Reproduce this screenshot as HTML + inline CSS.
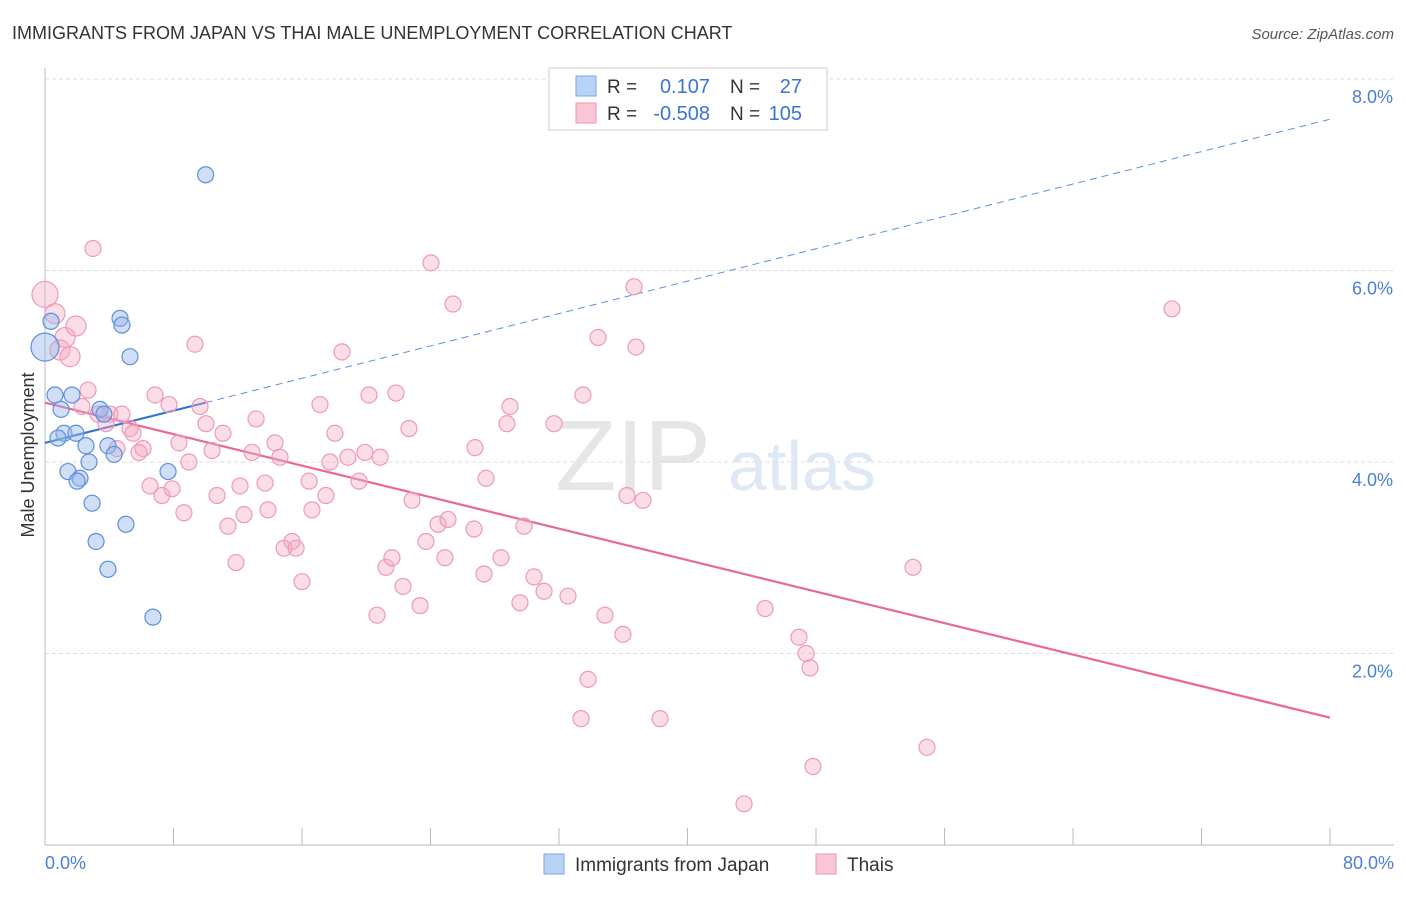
<!DOCTYPE html>
<html><head><meta charset="utf-8"><style>
body{margin:0;background:#fff;font-family:"Liberation Sans",sans-serif;}
svg text{font-family:"Liberation Sans",sans-serif;}
</style></head><body>
<svg id="chart" width="1406" height="892">
<text x="12" y="39" font-size="18" fill="#333">IMMIGRANTS FROM JAPAN VS THAI MALE UNEMPLOYMENT CORRELATION CHART</text>
<text x="1394" y="39" font-size="15" fill="#555" font-style="italic" text-anchor="end">Source: ZipAtlas.com</text>
<text x="633" y="490" font-size="100" fill="#e6e6e6" font-family="Liberation Serif" text-anchor="middle">ZIP</text>
<text x="802" y="490" font-size="70" fill="#dfe8f5" text-anchor="middle">atlas</text>
<g id="grid"></g><g id="axes"></g><g id="lines"></g><g id="pts"></g>
<text transform="translate(34,455) rotate(-90)" font-size="18" fill="#333" text-anchor="middle">Male Unemployment</text>
<text x="45" y="869" font-size="18" fill="#4a7fd6">0.0%</text>
<text x="1394" y="869" font-size="18" fill="#4a7fd6" text-anchor="end">80.0%</text>
<g>
<rect x="549" y="68" width="278" height="62" fill="#fff" stroke="#ccc"/>
<rect x="576" y="76" width="20" height="20" fill="#b9d3f5" stroke="#7aa5e0"/>
<rect x="576" y="103" width="20" height="20" fill="#f9c6d6" stroke="#ec94b2"/>
<text x="607" y="93" font-size="19" fill="#333">R =</text><text x="710" y="93" font-size="20" fill="#3a74d6" text-anchor="end">0.107</text>
<text x="730" y="93" font-size="19" fill="#333">N =</text><text x="802" y="93" font-size="20" fill="#3a74d6" text-anchor="end">27</text>
<text x="607" y="120" font-size="19" fill="#333">R =</text><text x="710" y="120" font-size="20" fill="#3a74d6" text-anchor="end">-0.508</text>
<text x="730" y="120" font-size="19" fill="#333">N =</text><text x="802" y="120" font-size="20" fill="#3a74d6" text-anchor="end">105</text>
</g>
<g>
<rect x="544" y="854" width="20" height="20" fill="#b9d3f5" stroke="#7aa5e0"/>
<text x="575" y="871" font-size="19" fill="#333">Immigrants from Japan</text>
<rect x="816" y="854" width="20" height="20" fill="#f9c6d6" stroke="#ec94b2"/>
<text x="847" y="871" font-size="19" fill="#333">Thais</text>
</g>
</svg>
<script>
const yTicks=[2,4,6,8];
const xTicks=[0,8,16,24,32,40,48,56,64,72,80];
const japanX=[10.0,4.67,4.79,0.37,0,5.29,0.62,1.68,1.0,3.42,3.67,1.18,1.93,0.81,2.55,3.92,4.30,2.74,1.43,7.66,2.18,2.0,2.93,5.04,3.18,3.92,6.72];
const japanY=[7.0,5.5,5.43,5.47,5.2,5.1,4.7,4.7,4.55,4.55,4.5,4.3,4.3,4.25,4.17,4.17,4.08,4.0,3.9,3.9,3.83,3.8,3.57,3.35,3.17,2.88,2.38];
const thaiX=[0,0.62,1.25,1.93,0.93,1.56,2.99,2.68,2.30,3.30,4.05,4.79,3.80,5.29,5.48,4.48,6.10,5.85,6.85,7.72,9.65,8.34,10.02,9.34,11.08,10.40,13.14,12.89,14.32,14.63,8.96,6.54,7.28,7.91,8.65,10.71,12.14,11.39,12.39,13.70,13.88,11.89,14.88,15.38,15.63,16.00,16.44,16.62,17.49,17.12,18.05,18.49,17.74,18.86,19.55,19.92,20.86,20.17,21.85,22.66,22.85,24.47,23.72,24.90,25.09,24.03,25.40,20.67,21.23,21.60,22.29,23.35,26.77,26.71,27.46,27.33,28.39,28.76,28.95,29.57,29.82,30.44,31.07,31.69,32.56,33.49,34.43,34.86,35.98,36.23,37.23,36.67,36.79,33.81,33.37,38.29,44.83,46.94,47.38,47.63,47.81,43.52,54.04,54.91,70.16];
const thaiY=[5.75,5.55,5.3,5.42,5.17,5.1,6.23,4.75,4.58,4.5,4.5,4.5,4.4,4.35,4.3,4.14,4.14,4.1,4.7,4.6,4.58,4.2,4.4,5.23,4.3,4.12,4.45,4.1,4.2,4.05,4.0,3.75,3.65,3.72,3.47,3.65,3.75,3.33,3.45,3.78,3.5,2.95,3.1,3.17,3.1,2.75,3.8,3.5,3.65,4.6,4.3,5.15,4.0,4.05,3.8,4.1,4.05,4.7,4.72,4.35,3.6,3.35,3.17,3.0,3.4,6.08,5.65,2.4,2.9,3.0,2.7,2.5,4.15,3.3,3.83,2.83,3.0,4.4,4.58,2.53,3.33,2.8,2.65,4.4,2.6,4.7,5.3,2.4,2.2,3.65,3.6,5.83,5.2,1.73,1.32,1.32,2.47,2.17,2.0,1.85,0.82,0.43,2.9,1.02,5.6];
const japanFit=[[0,4.2],[10,4.62],[80,7.58]];
const thaiFit=[[0,4.62],[80,1.33]];
const X=v=>45+v/80*1285, Y=v=>845-v*95.75;
const NS='http://www.w3.org/2000/svg';
function mk(p,t,a){const e=document.createElementNS(NS,t);for(const k in a)e.setAttribute(k,a[k]);document.getElementById(p).appendChild(e);return e;}
yTicks.forEach(t=>{
 const l=mk('grid','line',{x1:45,x2:1394,y1:Y(t),y2:Y(t),stroke:'#ddd','stroke-dasharray':'4,3'});
 
 
 const tx=mk('grid','text',{x:1393,y:Y(t)+24,'font-size':18,fill:'#4a7fd6','text-anchor':'end'});tx.textContent=t.toFixed(1)+'%';
 
 
});
const ax=mk('axes','line',{x1:45,x2:1394,y1:845,y2:845,stroke:'#bbb'});


const ay=mk('axes','line',{x1:45,x2:45,y1:68,y2:845,stroke:'#bbb'});


xTicks.forEach(t=>{const l=mk('axes','line',{x1:X(t),x2:X(t),y1:828,y2:845,stroke:'#bbb'});
 
 });
let l=mk('lines','line',{x1:X(japanFit[0][0]),y1:Y(japanFit[0][1]),x2:X(japanFit[1][0]),y2:Y(japanFit[1][1]),stroke:'#2f6fd6','stroke-width':2});


l=mk('lines','line',{x1:X(japanFit[1][0]),y1:Y(japanFit[1][1]),x2:X(japanFit[2][0]),y2:Y(japanFit[2][1]),stroke:'#5b8fe0','stroke-width':1,'stroke-dasharray':'7,5'});


l=mk('lines','line',{x1:X(thaiFit[0][0]),y1:Y(thaiFit[0][1]),x2:X(thaiFit[1][0]),y2:Y(thaiFit[1][1]),stroke:'#e8689a','stroke-width':2.2});


thaiX.forEach((v,i)=>{const c=mk('pts','circle',{cx:X(v),cy:Y(thaiY[i]),r:i==0?13:(i<6?10:8),fill:'rgba(244,170,196,0.4)',stroke:'#ec9ab8','stroke-width':1.2});
 
 });
japanX.forEach((v,i)=>{const c=mk('pts','circle',{cx:X(v),cy:Y(japanY[i]),r:i==4?14:8,fill:'rgba(150,185,235,0.45)',stroke:'#5d8fdb','stroke-width':1.2});
 
 });
</script>
</body></html>
